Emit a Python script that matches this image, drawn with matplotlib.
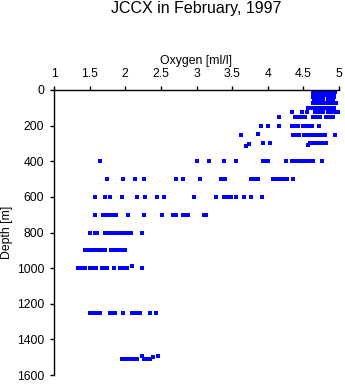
import numpy as np
import matplotlib

matplotlib.use("Agg")
from matplotlib import pyplot as plt

plt.rcParams["font.family"] = ["Liberation Sans", "DejaVu Sans"]

# depth levels [m] and oxygen readings [ml/l] at each one
levels = [0, 10, 20, 30, 40, 50, 75, 100, 125, 150, 200, 250, 300,
          400, 500, 600, 700, 800, 900, 1000, 1250, 1510]

oxygen = [
    [4.64, 4.67, 4.70, 4.73, 4.76, 4.79, 4.84, 4.87, 4.90, 4.93],
    [4.63, 4.66, 4.69, 4.72, 4.75, 4.78, 4.83, 4.86, 4.89, 4.92, 4.94],
    [4.64, 4.67, 4.70, 4.73, 4.76, 4.79, 4.84, 4.87, 4.90, 4.93],
    [4.63, 4.66, 4.69, 4.72, 4.75, 4.78, 4.83, 4.86, 4.89, 4.92],
    [4.64, 4.67, 4.70, 4.73, 4.76, 4.84, 4.87, 4.90, 4.93],
    [4.65, 4.68, 4.71, 4.74, 4.77, 4.85, 4.88, 4.91],
    [4.64, 4.67, 4.70, 4.73, 4.76, 4.79, 4.83, 4.86, 4.89, 4.92, 4.96],
    [4.57, 4.60, 4.63, 4.66, 4.69, 4.72, 4.75, 4.78, 4.82, 4.85, 4.89, 4.93],
    [4.34, 4.48, 4.55, 4.66, 4.69, 4.72, 4.75, 4.78, 4.84, 4.87, 4.90, 4.93, 4.96, 4.99],
    [4.16, 4.38, 4.41, 4.45, 4.48, 4.52, 4.64, 4.68, 4.73, 4.82, 4.85, 4.88, 4.91],
    [3.90, 4.01, 4.16, 4.34, 4.37, 4.40, 4.43, 4.49, 4.52, 4.55, 4.58, 4.62, 4.72],
    [3.63, 4.36, 4.40, 4.44, 4.51, 4.55, 4.58, 4.64, 4.68, 4.72, 4.76, 4.80, 4.94],
    [3.93, 4.03, 4.59, 4.62, 4.66, 4.72, 4.75, 4.78, 4.82],
    [1.64, 3.00, 3.18, 3.38, 3.55, 3.93, 3.97, 4.01, 4.26, 4.34, 4.38, 4.42,
     4.46, 4.50, 4.54, 4.58, 4.64, 4.76],
    [1.75, 1.97, 2.14, 2.27, 2.71, 2.81, 3.05, 3.34, 3.40, 3.76, 3.80, 3.83,
     3.87, 4.07, 4.10, 4.13, 4.17, 4.20, 4.24, 4.27, 4.35],
    [1.58, 1.71, 1.79, 1.96, 2.16, 2.28, 2.44, 2.55, 2.97, 3.28, 3.38, 3.42,
     3.45, 3.48, 3.56, 3.66, 3.76, 3.92],
    [1.58, 1.69, 1.75, 1.79, 1.83, 1.87, 2.04, 2.27, 2.52, 2.67, 2.71, 2.81,
     2.85, 2.88, 3.10, 3.13],
    [1.51, 1.58, 1.60, 1.71, 1.76, 1.80, 1.84, 1.88, 1.92, 1.95, 2.00, 2.04,
     2.08, 2.23],
    [1.43, 1.47, 1.51, 1.55, 1.59, 1.63, 1.68, 1.72, 1.80, 1.84, 1.88, 1.92,
     1.96, 1.99],
    [1.33, 1.37, 1.41, 1.44, 1.51, 1.55, 1.59, 1.68, 1.71, 1.74, 1.84, 1.92,
     1.96, 2.00, 2.03, 2.23],
    [1.50, 1.54, 1.58, 1.62, 1.65, 1.79, 1.83, 1.86, 1.97, 2.10, 2.13, 2.17,
     2.20, 2.35, 2.43],
    [1.96, 2.00, 2.04, 2.08, 2.12, 2.16, 2.27, 2.31, 2.35],
]

# readings a little off their level
odd_oxygen = [3.87, 3.69, 3.73, 4.56, 2.09, 2.23, 2.39, 2.46]
odd_depth = [245, 315, 305, 308, 990, 1495, 1500, 1495]

ox = np.concatenate([np.array(o) for o in oxygen] + [np.array(odd_oxygen)])
dp = np.concatenate([np.full(len(o), d) for o, d in zip(oxygen, levels)] + [np.array(odd_depth)])

W, H = 345, 384
fig = plt.figure(figsize=(W / 100, H / 100), dpi=100)
ax = fig.add_axes([54 / W, 1 - 375 / H, 285 / W, 285 / H])

ax.plot(ox, dp, "s", color="#0000ff", markersize=2.2, markeredgewidth=0)

ax.set_xlim(1, 5)
ax.set_ylim(1600, 0)
ax.set_xticks([1, 1.5, 2, 2.5, 3, 3.5, 4, 4.5, 5])
ax.set_xticklabels(["1", "1.5", "2", "2.5", "3", "3.5", "4", "4.5", "5"])
ax.set_yticks(range(0, 1601, 200))

ax.xaxis.tick_top()
ax.xaxis.set_label_position("top")
ax.spines["right"].set_visible(False)
ax.spines["bottom"].set_visible(False)
for s in ("left", "top"):
    ax.spines[s].set_linewidth(1.0)
ax.tick_params(axis="both", direction="out", length=3, width=1.0,
               labelsize=8.8, pad=4.0)

ax.set_xlabel("Oxygen [ml/l]", fontsize=8.8, labelpad=3.0)
ax.set_ylabel("Depth [m]", fontsize=8.8, labelpad=3.0)

fig.text(196.5 / W, 1 - 8.5 / H, "JCCX in February, 1997", ha="center",
         va="center", fontsize=11.5)

fig.savefig("out.png", dpi=100)
